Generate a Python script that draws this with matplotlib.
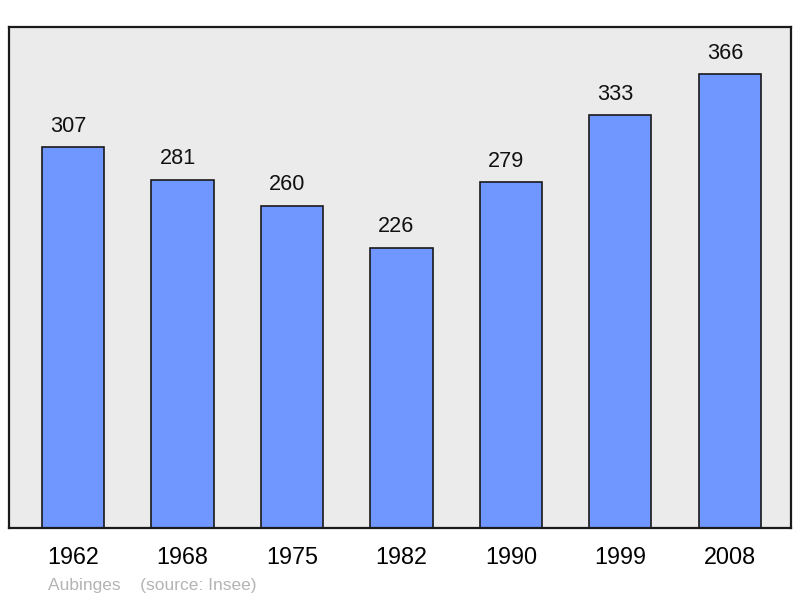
import matplotlib.pyplot as plt

years = ["1962", "1968", "1975", "1982", "1990", "1999", "2008"]
population = [307, 281, 260, 226, 279, 333, 366]

plt.rcParams["font.family"] = ["Liberation Sans", "DejaVu Sans"]

fig = plt.figure(figsize=(8, 5.98), dpi=100)
ax = fig.add_axes([0.01125, 0.1171, 0.9775, 0.8378])
ax.set_facecolor("#ebebeb")

pos = list(range(len(years)))
ax.bar(pos, population, width=0.57, color="#7097ff", edgecolor="#1a1a1a", linewidth=1.2, zorder=2)
for x, v in zip(pos, population):
	ax.annotate(str(v), (x, v), xytext=(-3.5, 7.5), textcoords="offset points",
		ha="center", va="bottom", fontsize=15.6, color="#111111")

ax.set_xlim(-0.585, 6.56)
ax.set_ylim(0, 404)
ax.set_yticks([])
ax.set_xticks(pos)
ax.set_xticklabels(years, fontsize=16.8)
ax.tick_params(axis="x", length=0, pad=13)
for s in ax.spines.values():
	s.set_linewidth(1.6)
	s.set_color("#1a1a1a")

fig.text(0.06, 0.021, "Aubinges    (source: Insee)", fontsize=12.5, color="#b4b4b4", va="center", ha="left")

fig.savefig("out.png", dpi=100)
